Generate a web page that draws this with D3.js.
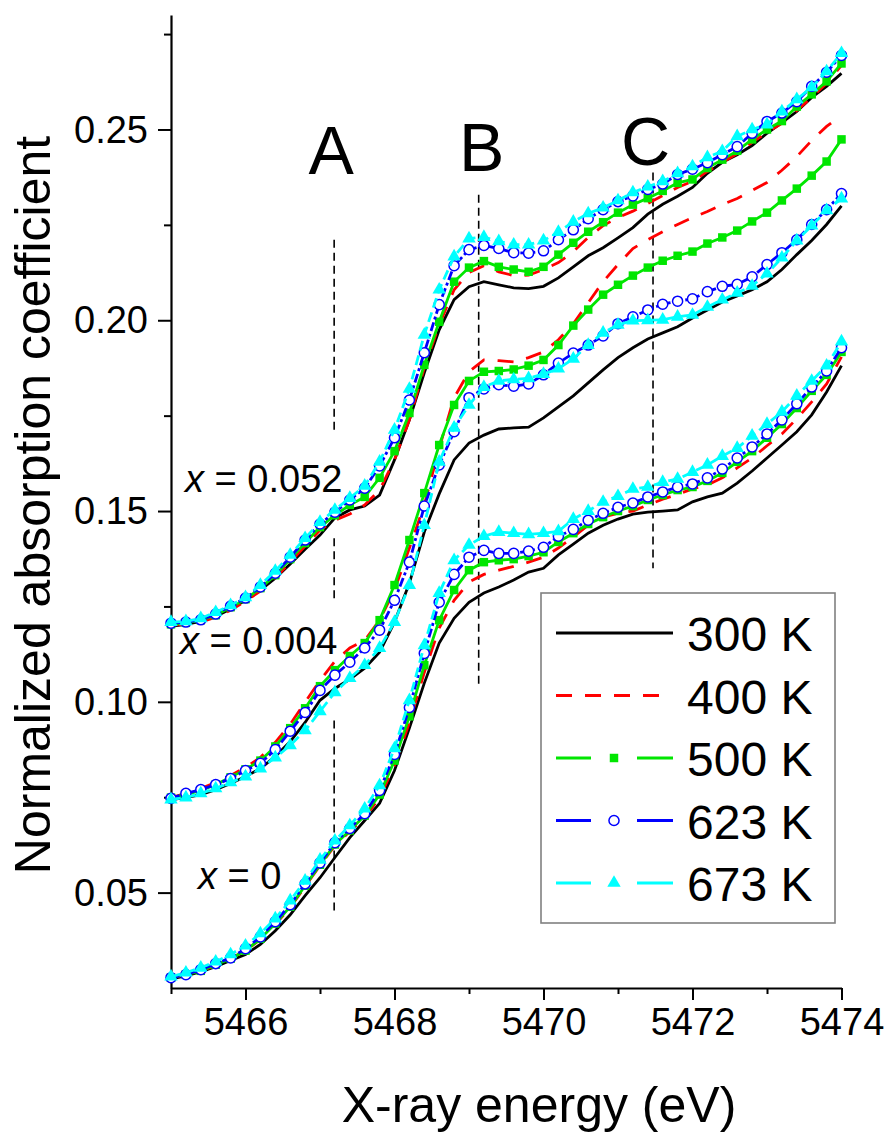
<!DOCTYPE html>
<html>
<head>
<meta charset="utf-8">
<script src="https://cdn.jsdelivr.net/npm/d3@7"></script>
<style>
  body { margin: 0; background: #fff; }
  svg { display: block; font-family: "Liberation Sans", Arial, sans-serif; }
</style>
</head>
<body>
<svg id="chart"></svg>
<script>
const width = 888;
const height = 1133;
const margin = {top: 15, right: 46.5, bottom: 145, left: 171};

// photon energy grid (eV)
const energy = [5465.0,5465.2,5465.4,5465.6,5465.8,5466.0,5466.2,5466.4,5466.6,5466.8,
  5467.0,5467.2,5467.4,5467.6,5467.8,5468.0,5468.2,5468.4,5468.6,5468.8,
  5469.0,5469.2,5469.4,5469.6,5469.8,5470.0,5470.2,5470.4,5470.6,5470.8,
  5471.0,5471.2,5471.4,5471.6,5471.8,5472.0,5472.2,5472.4,5472.6,5472.8,
  5473.0,5473.2,5473.4,5473.6,5473.8,5474.0];

// x = 0.052
const top300 = [0.1198,0.1203,0.1211,0.1224,0.1243,0.1266,0.1293,0.1324,0.1361,0.1400,0.1437,0.1482,0.1503,0.1513,0.1542,0.1634,0.1739,0.1862,0.1975,0.2054,0.2088,0.2101,0.2093,0.2085,0.2083,0.2089,0.2111,0.2140,0.2169,0.2190,0.2216,0.2243,0.2278,0.2304,0.2325,0.2348,0.2385,0.2414,0.2434,0.2458,0.2490,0.2518,0.2547,0.2584,0.2613,0.2647];
const top400 = [0.1201,0.1203,0.1209,0.1222,0.1240,0.1264,0.1290,0.1324,0.1366,0.1408,0.1450,0.1476,0.1492,0.1516,0.1555,0.1634,0.1739,0.1875,0.1988,0.2080,0.2125,0.2143,0.2127,0.2117,0.2118,0.2133,0.2151,0.2180,0.2217,0.2248,0.2269,0.2286,0.2306,0.2327,0.2348,0.2364,0.2390,0.2414,0.2437,0.2466,0.2492,0.2516,0.2550,0.2584,0.2621,0.2668];
const top500 = [0.1203,0.1207,0.1214,0.1227,0.1248,0.1269,0.1298,0.1332,0.1374,0.1416,0.1458,0.1489,0.1516,0.1537,0.1587,0.1657,0.1757,0.1883,0.1996,0.2101,0.2138,0.2155,0.2140,0.2133,0.2127,0.2140,0.2172,0.2203,0.2232,0.2257,0.2282,0.2303,0.2320,0.2339,0.2360,0.2369,0.2399,0.2421,0.2444,0.2474,0.2500,0.2522,0.2560,0.2592,0.2626,0.2673];
const top623 = [0.1206,0.1209,0.1215,0.1230,0.1251,0.1272,0.1301,0.1337,0.1379,0.1424,0.1466,0.1497,0.1529,0.1560,0.1618,0.1692,0.1791,0.1915,0.2041,0.2143,0.2185,0.2196,0.2188,0.2177,0.2176,0.2182,0.2211,0.2237,0.2266,0.2290,0.2311,0.2326,0.2343,0.2357,0.2382,0.2396,0.2413,0.2434,0.2455,0.2490,0.2521,0.2543,0.2573,0.2613,0.2650,0.2694];
const top673 = [0.1209,0.1211,0.1219,0.1235,0.1253,0.1274,0.1306,0.1343,0.1385,0.1429,0.1471,0.1503,0.1534,0.1566,0.1629,0.1713,0.1820,0.1962,0.2080,0.2167,0.2214,0.2218,0.2207,0.2198,0.2198,0.2209,0.2231,0.2258,0.2280,0.2295,0.2314,0.2335,0.2350,0.2364,0.2385,0.2403,0.2427,0.2443,0.2482,0.2500,0.2513,0.2547,0.2579,0.2610,0.2652,0.2700];

// x = 0.004
const mid300 = [0.0744,0.0749,0.0757,0.0770,0.0786,0.0804,0.0825,0.0857,0.0896,0.0946,0.1004,0.1035,0.1059,0.1088,0.1130,0.1209,0.1311,0.1445,0.1545,0.1634,0.1678,0.1699,0.1715,0.1718,0.1720,0.1744,0.1773,0.1802,0.1836,0.1870,0.1902,0.1928,0.1951,0.1967,0.1983,0.2006,0.2027,0.2048,0.2064,0.2080,0.2101,0.2133,0.2172,0.2209,0.2251,0.2300];
const mid400 = [0.0749,0.0760,0.0773,0.0789,0.0807,0.0828,0.0854,0.0894,0.0941,0.0999,0.1056,0.1106,0.1141,0.1161,0.1214,0.1293,0.1403,0.1516,0.1665,0.1797,0.1865,0.1896,0.1894,0.1891,0.1902,0.1917,0.1949,0.1991,0.2046,0.2101,0.2146,0.2188,0.2211,0.2232,0.2251,0.2269,0.2285,0.2303,0.2319,0.2340,0.2361,0.2393,0.2429,0.2471,0.2508,0.2537];
const mid500 = [0.0749,0.0757,0.0768,0.0783,0.0802,0.0823,0.0846,0.0883,0.0931,0.0983,0.1041,0.1083,0.1120,0.1154,0.1214,0.1306,0.1424,0.1547,0.1673,0.1778,0.1841,0.1865,0.1867,0.1871,0.1881,0.1896,0.1935,0.1986,0.2028,0.2067,0.2093,0.2117,0.2138,0.2156,0.2169,0.2180,0.2201,0.2217,0.2235,0.2259,0.2282,0.2314,0.2345,0.2379,0.2416,0.2474];
const mid623 = [0.0747,0.0760,0.0770,0.0783,0.0799,0.0820,0.0839,0.0875,0.0923,0.0972,0.1030,0.1070,0.1104,0.1141,0.1188,0.1266,0.1366,0.1513,0.1621,0.1708,0.1797,0.1820,0.1831,0.1827,0.1833,0.1857,0.1888,0.1914,0.1935,0.1959,0.1991,0.2009,0.2027,0.2042,0.2050,0.2056,0.2075,0.2089,0.2094,0.2114,0.2146,0.2177,0.2211,0.2251,0.2290,0.2332];
const mid673 = [0.0744,0.0749,0.0760,0.0773,0.0789,0.0804,0.0825,0.0854,0.0886,0.0925,0.0975,0.1025,0.1062,0.1096,0.1141,0.1209,0.1306,0.1463,0.1629,0.1718,0.1778,0.1825,0.1841,0.1845,0.1848,0.1859,0.1873,0.1899,0.1935,0.1967,0.1988,0.1999,0.2000,0.2001,0.2009,0.2014,0.2035,0.2054,0.2072,0.2090,0.2122,0.2164,0.2209,0.2248,0.2288,0.2319];

// x = 0
const bot300 = [0.0274,0.0282,0.0293,0.0306,0.0322,0.0338,0.0364,0.0400,0.0442,0.0492,0.0539,0.0592,0.0644,0.0689,0.0734,0.0820,0.0931,0.1049,0.1154,0.1219,0.1261,0.1285,0.1301,0.1319,0.1340,0.1350,0.1385,0.1413,0.1442,0.1463,0.1479,0.1492,0.1497,0.1500,0.1503,0.1524,0.1537,0.1547,0.1573,0.1605,0.1639,0.1673,0.1708,0.1752,0.1812,0.1881];
const bot400 = [0.0277,0.0285,0.0295,0.0308,0.0327,0.0348,0.0377,0.0416,0.0461,0.0516,0.0571,0.0623,0.0660,0.0697,0.0749,0.0833,0.0946,0.1077,0.1193,0.1266,0.1314,0.1334,0.1345,0.1355,0.1366,0.1379,0.1403,0.1432,0.1463,0.1484,0.1494,0.1500,0.1516,0.1531,0.1544,0.1558,0.1568,0.1587,0.1613,0.1639,0.1671,0.1702,0.1742,0.1786,0.1833,0.1904];
const bot500 = [0.0277,0.0285,0.0295,0.0311,0.0327,0.0348,0.0379,0.0419,0.0463,0.0518,0.0573,0.0626,0.0663,0.0702,0.0757,0.0846,0.0962,0.1096,0.1214,0.1293,0.1345,0.1366,0.1371,0.1374,0.1382,0.1392,0.1419,0.1442,0.1466,0.1484,0.1500,0.1513,0.1529,0.1542,0.1555,0.1563,0.1579,0.1600,0.1629,0.1657,0.1692,0.1728,0.1770,0.1815,0.1857,0.1917];
const bot623 = [0.0277,0.0285,0.0298,0.0314,0.0329,0.0353,0.0384,0.0424,0.0468,0.0523,0.0578,0.0631,0.0668,0.0707,0.0768,0.0862,0.0985,0.1127,0.1261,0.1334,0.1379,0.1397,0.1389,0.1389,0.1395,0.1405,0.1434,0.1452,0.1476,0.1494,0.1510,0.1521,0.1537,0.1550,0.1563,0.1571,0.1587,0.1610,0.1639,0.1668,0.1702,0.1739,0.1781,0.1825,0.1867,0.1928];
const bot673 = [0.0280,0.0290,0.0303,0.0319,0.0338,0.0361,0.0393,0.0432,0.0479,0.0531,0.0586,0.0636,0.0676,0.0720,0.0781,0.0878,0.1004,0.1148,0.1285,0.1371,0.1411,0.1434,0.1445,0.1442,0.1439,0.1442,0.1447,0.1479,0.1500,0.1524,0.1539,0.1558,0.1563,0.1576,0.1584,0.1602,0.1621,0.1644,0.1665,0.1697,0.1728,0.1760,0.1802,0.1841,0.1881,0.1944];

const temps = ["300 K", "400 K", "500 K", "623 K", "673 K"];

// vertical markers A, B, C: energy and the drawn y-spans
const refNames = ["A", "B", "C"];
const refEnergy = [5467.19, 5469.13, 5471.47];
const refSpans = [
  [[0.2211, 0.1713], [0.1429, 0.1259], [0.0951, 0.0453]],
  [[0.2329, 0.1043]],
  [[0.2387, 0.1350]]
];
const refLabelE = [5467.15, 5469.17, 5471.37];
const refLabelY = [0.2382, 0.2390, 0.2406];

const groupNames = ["0.052", "0.004", "0"];
const groups = [
  [top300, top400, top500, top623, top673],
  [mid300, mid400, mid500, mid623, mid673],
  [bot300, bot400, bot500, bot623, bot673]
];

const style = [
  {color: "#000000", dash: null, marker: null},
  {color: "#ff0000", dash: "16,13", marker: null},
  {color: "#00e600", dash: null, marker: "square"},
  {color: "#0000ff", dash: "9,3,3,3", marker: "circle"},
  {color: "#00ffff", dash: "10,5", marker: "triangle"}
];

const svg = d3.select("#chart")
  .attr("width", width)
  .attr("height", height);

const x = d3.scaleLinear()
  .domain([5465, 5474])
  .range([margin.left, width - margin.right]);

const y = d3.scaleLinear()
  .domain([0.025, 0.28])
  .range([height - margin.bottom, margin.top]);

// axes
const xAxis = g => g
  .attr("transform", `translate(0,${y(0.025)})`)
  .call(d3.axisBottom(x).tickValues([5466, 5468, 5470, 5472, 5474])
    .tickFormat(d3.format("d")).tickSize(12).tickSizeOuter(0).tickPadding(8))
  .call(g => g.select(".domain").attr("stroke-width", 2.2))
  .call(g => g.selectAll(".tick line").attr("stroke-width", 2))
  .call(g => g.selectAll(".tick text").attr("font-size", 38).attr("fill", "#000"));

const xMinor = g => g
  .attr("transform", `translate(0,${y(0.025)})`)
  .call(d3.axisBottom(x).tickValues([5465, 5467, 5469, 5471, 5473])
    .tickFormat("").tickSize(6).tickSizeOuter(0))
  .call(g => g.select(".domain").remove())
  .call(g => g.selectAll(".tick line").attr("stroke-width", 2));

const yAxis = g => g
  .attr("transform", `translate(${x(5465)},0)`)
  .call(d3.axisLeft(y).tickValues([0.05, 0.10, 0.15, 0.20, 0.25])
    .tickFormat(d3.format(".2f")).tickSize(13).tickSizeOuter(0).tickPadding(10))
  .call(g => g.select(".domain").attr("stroke-width", 2.2))
  .call(g => g.selectAll(".tick line").attr("stroke-width", 2))
  .call(g => g.selectAll(".tick text").attr("font-size", 38).attr("fill", "#000")
    .attr("dy", "0.33em"));

const yMinor = g => g
  .attr("transform", `translate(${x(5465)},0)`)
  .call(d3.axisLeft(y).tickValues([0.075, 0.125, 0.175, 0.225, 0.275])
    .tickFormat("").tickSize(7).tickSizeOuter(0))
  .call(g => g.select(".domain").remove())
  .call(g => g.selectAll(".tick line").attr("stroke-width", 2));

svg.append("g").call(xMinor);
svg.append("g").call(yMinor);
svg.append("g").call(xAxis);
svg.append("g").call(yAxis);

svg.selectAll(".tick text").attr("font-family", "\"Liberation Sans\", Arial, sans-serif");

// axis titles
svg.append("text")
  .attr("x", 539).attr("y", 1122)
  .attr("text-anchor", "middle")
  .attr("font-size", 50)
  .text("X-ray energy (eV)");

svg.append("text")
  .attr("transform", "translate(50,505) rotate(-90)")
  .attr("text-anchor", "middle")
  .attr("font-size", 50)
  .text("Normalized absorption coefficient");

// reference dashed lines
refEnergy.forEach((e, i) => {
  refSpans[i].forEach(s => {
    svg.append("line")
      .attr("x1", x(e)).attr("x2", x(e))
      .attr("y1", y(s[0])).attr("y2", y(s[1]))
      .attr("stroke", "#000")
      .attr("stroke-width", 1.6)
      .attr("stroke-dasharray", "8,5");
  });
  svg.append("text")
    .attr("x", x(refLabelE[i])).attr("y", y(refLabelY[i]))
    .attr("text-anchor", "middle")
    .attr("font-size", 68)
    .text(refNames[i]);
});

// curves
const line = d3.line()
  .x((d, i) => x(energy[i]))
  .y(d => y(d));

const symbolFor = {
  square: d3.symbol().type(d3.symbolSquare).size(72),
  circle: d3.symbol().type(d3.symbolCircle).size(80),
  triangle: d3.symbol().type(d3.symbolTriangle).size(78)
};

groups.forEach(series => {
  series.forEach((vals, k) => {
    const st = style[k];
    svg.append("path")
      .datum(vals)
      .attr("fill", "none")
      .attr("stroke", st.color)
      .attr("stroke-width", 2.8)
      .attr("stroke-dasharray", st.dash)
      .attr("d", line);

    if (st.marker) {
      svg.append("g")
        .selectAll("path")
        .data(vals)
        .join("path")
        .attr("transform", (d, i) => `translate(${x(energy[i])},${y(d)})`)
        .attr("d", symbolFor[st.marker]())
        .attr("fill", st.marker === "circle" ? "#fff" : st.color)
        .attr("stroke", st.marker === "circle" ? st.color : "none")
        .attr("stroke-width", 1.5);
    }
  });
});

// group labels
const labelPos = [[185, 492], [180, 654], [198, 889]];
groupNames.forEach((n, i) => {
  const t = svg.append("text")
    .attr("x", labelPos[i][0]).attr("y", labelPos[i][1])
    .attr("font-size", 38);
  t.append("tspan").attr("font-style", "italic").text("x");
  t.append("tspan").text(" = " + n);
});

// legend
const legend = svg.append("g");
legend.append("rect")
  .attr("x", 541).attr("y", 593)
  .attr("width", 294).attr("height", 330)
  .attr("fill", "#fff")
  .attr("stroke", "#808080")
  .attr("stroke-width", 1.6);

temps.forEach((t, k) => {
  const st = style[k];
  const cy = 633 + k * 62.5;
  if (st.marker) {
    [[556, 591], [637, 673]].forEach(p => {
      legend.append("line")
        .attr("x1", p[0]).attr("x2", p[1])
        .attr("y1", cy).attr("y2", cy)
        .attr("stroke", st.color).attr("stroke-width", 2.8);
    });
    legend.append("path")
      .attr("transform", `translate(614,${cy})`)
      .attr("d", symbolFor[st.marker]())
      .attr("fill", st.marker === "circle" ? "#fff" : st.color)
      .attr("stroke", st.marker === "circle" ? st.color : "none")
      .attr("stroke-width", 1.5);
  } else {
    legend.append("line")
      .attr("x1", 556).attr("x2", st.dash ? 660 : 673)
      .attr("y1", cy).attr("y2", cy)
      .attr("stroke", st.color).attr("stroke-width", 2.8)
      .attr("stroke-dasharray", st.dash);
  }
  legend.append("text")
    .attr("x", 687).attr("y", cy + 18)
    .attr("font-size", 48)
    .text(t);
});
</script>
</body>
</html>
